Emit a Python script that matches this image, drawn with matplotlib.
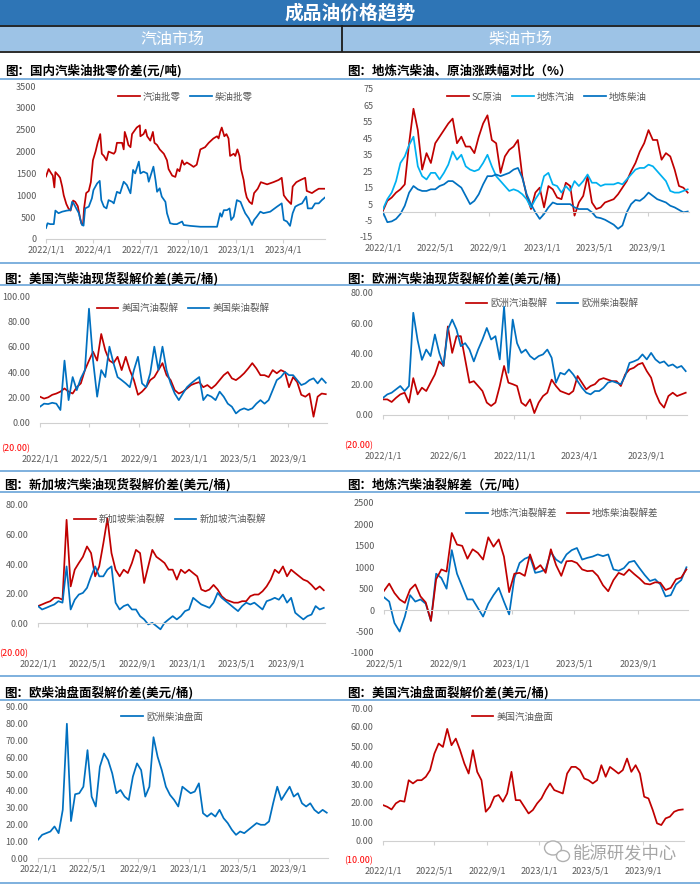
import numpy as np
import pandas as pd
import matplotlib
matplotlib.use('Agg')
import matplotlib.pyplot as plt
import matplotlib.dates as mdates
from matplotlib.patches import Rectangle, Ellipse
from matplotlib.lines import Line2D

plt.rcParams['font.family'] = ['Noto Sans CJK SC', 'DejaVu Sans']

W, H = 700, 885
RED = '#C00000'
BLUE = '#0070C0'
SKY = '#00B0F0'
GRAY = '#595959'
AXIS = '#D0D0D0'
RULE = '#5B9BD5'

# ---------------- data ----------------
# 10-day grid shared by most panels (2022-01-01 .. 2023-12-02)
grid = pd.date_range('2022-01-01', periods=71, freq='10D')

# panel 1 left: domestic wholesale-retail spread (yuan/t)
gas_retail_dates = [
    '2022-01-01', '2022-01-06', '2022-01-10', '2022-01-14', '2022-01-17', '2022-01-19', '2022-01-25',
    '2022-01-28', '2022-02-01', '2022-02-04', '2022-02-09', '2022-02-13', '2022-02-17', '2022-02-22',
    '2022-02-26', '2022-03-03', '2022-03-07', '2022-03-10', '2022-03-13', '2022-03-15', '2022-03-19',
    '2022-03-24', '2022-03-28', '2022-04-01', '2022-04-06', '2022-04-10', '2022-04-15', '2022-04-18',
    '2022-04-22', '2022-04-27', '2022-05-01', '2022-05-11', '2022-05-14', '2022-05-17', '2022-05-27',
    '2022-05-30', '2022-06-01', '2022-06-05', '2022-06-08', '2022-06-12', '2022-06-15', '2022-06-18',
    '2022-06-24', '2022-06-30', '2022-07-01', '2022-07-07', '2022-07-11', '2022-07-14', '2022-07-20',
    '2022-07-25', '2022-07-28', '2022-08-02', '2022-08-07', '2022-08-15', '2022-08-21', '2022-08-24',
    '2022-08-31', '2022-09-06', '2022-09-10', '2022-09-14', '2022-09-19', '2022-09-23', '2022-09-28',
    '2022-10-05', '2022-10-11', '2022-10-17', '2022-10-24', '2022-11-02', '2022-11-09', '2022-11-18',
    '2022-11-25', '2022-11-28', '2022-12-01', '2022-12-04', '2022-12-09', '2022-12-13', '2022-12-17',
    '2022-12-20', '2022-12-27', '2022-12-30', '2023-01-03', '2023-01-07', '2023-01-10', '2023-01-15',
    '2023-01-18', '2023-01-21', '2023-01-26', '2023-01-31', '2023-02-04', '2023-02-11', '2023-02-17',
    '2023-03-01', '2023-03-13', '2023-03-23', '2023-03-29', '2023-04-02', '2023-04-08', '2023-04-16',
    '2023-04-19', '2023-04-26', '2023-05-04', '2023-05-13', '2023-05-16', '2023-05-26', '2023-06-01',
    '2023-06-08', '2023-06-20']
gas_retail = [
    1430, 1600, 1520, 1450, 1180, 1530, 1450, 1400, 1200, 1000, 800, 700, 650, 880, 850, 750, 500,
    350, 330, 700, 1050, 1100, 1300, 1800, 2000, 2200, 2400, 1950, 1900, 1800, 2000, 1950, 2000,
    2200, 2200, 2050, 2450, 2300, 2150, 2100, 2400, 2450, 2550, 2600, 2350, 2400, 2500, 2350, 2250,
    2450, 2200, 2150, 2050, 1950, 1800, 1600, 1450, 1420, 1600, 1550, 1800, 1700, 1750, 1700, 1650,
    1700, 2050, 2100, 2200, 2300, 2350, 2300, 2450, 2550, 2350, 2400, 2300, 1900, 1950, 1900, 2050,
    1900, 1600, 1350, 1100, 950, 850, 800, 1050, 1150, 1300, 1250, 1300, 1350, 1400, 1000, 900, 800,
    1200, 1300, 1350, 1400, 1100, 1050, 1100, 1150, 1150]

diesel_retail_dates = [
    '2022-01-01', '2022-01-04', '2022-01-09', '2022-01-16', '2022-01-19', '2022-01-25', '2022-02-01',
    '2022-02-10', '2022-02-17', '2022-02-20', '2022-02-23', '2022-02-28', '2022-03-05', '2022-03-08',
    '2022-03-11', '2022-03-14', '2022-03-17', '2022-03-24', '2022-03-30', '2022-04-02', '2022-04-09',
    '2022-04-14', '2022-04-17', '2022-04-22', '2022-04-27', '2022-05-01', '2022-05-08', '2022-05-11',
    '2022-05-17', '2022-05-23', '2022-05-30', '2022-06-05', '2022-06-12', '2022-06-17', '2022-06-21',
    '2022-06-28', '2022-07-01', '2022-07-07', '2022-07-14', '2022-07-17', '2022-07-23', '2022-07-26',
    '2022-07-30', '2022-08-02', '2022-08-07', '2022-08-11', '2022-08-18', '2022-08-21', '2022-08-27',
    '2022-09-03', '2022-09-09', '2022-09-19', '2022-09-22', '2022-10-05', '2022-10-24', '2022-11-12',
    '2022-11-25', '2022-12-01', '2022-12-04', '2022-12-08', '2022-12-14', '2022-12-19', '2022-12-22',
    '2022-12-27', '2023-01-02', '2023-01-09', '2023-01-14', '2023-01-18', '2023-01-25', '2023-01-31',
    '2023-02-04', '2023-02-09', '2023-02-16', '2023-02-22', '2023-03-07', '2023-03-20', '2023-03-29',
    '2023-04-02', '2023-04-08', '2023-04-14', '2023-04-19', '2023-04-24', '2023-04-30', '2023-05-07',
    '2023-05-15', '2023-05-18', '2023-05-26', '2023-06-01', '2023-06-08', '2023-06-14', '2023-06-20']
diesel_retail = [
    250, 360, 340, 340, 650, 590, 625, 650, 660, 850, 815, 700, 590, 435, 320, 305, 700, 740, 930,
    1120, 1270, 1330, 890, 740, 700, 890, 850, 815, 1080, 1045, 1310, 1235, 1045, 1580, 1500, 1770,
    1500, 1540, 1500, 1310, 1540, 1655, 1350, 1080, 1160, 970, 850, 590, 360, 340, 340, 400, 320,
    300, 280, 280, 280, 590, 510, 660, 660, 700, 435, 510, 890, 850, 700, 590, 470, 320, 435, 510,
    625, 590, 625, 740, 815, 435, 400, 300, 590, 740, 780, 815, 970, 700, 700, 815, 815, 890, 950]

# panel 1 right: local refinery products vs SC crude, change (%)
sc_crude = [1, 7, 9, 12, 14, 17, 42, 63, 50, 26,
            36, 30, 42, 46, 50, 54, 57, 42, 46, 40,
            40, 36, 46, 54, 59, 44, 42, 24, 34, 38,
            40, 44, 22, 10, 2, 12, 15, 3, 16, 14,
            9, 8, 18, 16, -2, 6, 10, 22, 6, 2,
            3, 6, 7, 8, 11, 15, 19, 25, 30, 37,
            42, 50, 44, 44, 32, 36, 34, 26, 16, 15,
            12]
dl_gasoline = [2, 8, 12, 19, 30, 34, 41, 46, 28, 22,
               20, 24, 24, 20, 24, 29, 37, 32, 35, 28,
               26, 25, 26, 30, 35, 28, 22, 19, 16, 13,
               14, 13, 11, 8, 3, 8, 12, 22, 24, 17,
               16, 12, 16, 13, 19, 16, 19, 23, 18, 18,
               16, 17, 17, 17, 18, 17, 20, 23, 26, 27,
               27, 29, 28, 25, 22, 19, 13, 12, 12, 13,
               14]
dl_diesel = [0, -6, -5.5, -4, -1, 4, 12, 16, 14, 13,
             13, 14, 14, 16, 17, 19, 19, 17, 15, 10,
             5, 7, 11, 17, 22, 22, 23, 22, 23, 24,
             26, 27, 21, 11, 5, 0, -4, -1, 3, 6,
             5, 5, 5, 5, 3, 2, 2, 2, 0, -3,
             -3.5, -4.5, -6, -7.5, -10, -8, 0, 5, 7.5, 7,
             9, 12, 10, 8, 7, 6, 4, 3, 1.5, 0,
             0.5]

# panel 2 left: US spot cracks (USD/bbl)
us_gas_crack = [20.5, 19, 20, 22, 23, 24.5, 27, 24.5, 23, 28,
                31, 41.5, 49, 56, 49, 70, 57, 49, 47, 52,
                41.5, 52, 41.5, 33.6, 22, 24.5, 28, 33.6, 36, 41.5,
                47, 37.5, 33.6, 25.7, 23, 24.5, 27, 29.7, 31, 32,
                28, 29.7, 27, 29.7, 33.6, 37.5, 40, 35, 33.6, 36,
                39, 42.8, 47, 42.8, 37.5, 37.5, 36, 41.5, 39, 41.5,
                40, 28, 36, 32, 22, 20.5, 23, 4.7, 20.5, 23,
                22.5]
us_diesel_crack = [12.6, 15, 14.7, 15.7, 15, 10, 49, 17.8, 36, 25.7,
                   35, 41.5, 90, 49, 20.5, 41.5, 36, 60, 47, 36,
                   33.6, 31, 28, 41.5, 52, 31, 28, 39, 60, 41.5,
                   60, 41.5, 31, 23, 17.8, 23, 28, 31, 33.6, 36,
                   17.8, 22, 20.5, 17.8, 24.5, 20.5, 15, 12.6, 7.3, 10,
                   11.3, 10, 11.3, 15, 17.8, 15, 17.8, 25.7, 33.6, 36,
                   40, 37.5, 37.5, 33.6, 29.7, 31, 33.6, 35, 31, 35,
                   31.5]

# panel 2 right: Europe spot cracks (USD/bbl)
eu_gas_crack = [10, 10, 8.3, 11, 13.3, 14.4, 7.9, 24, 13.3, 17.7,
                15.5, 21, 26.4, 35, 32, 58, 40.6, 51.6, 51.6, 36.3,
                21, 22, 18.8, 15.5, 7.9, 5.7, 7.9, 18.8, 32, 21,
                20, 18.8, 7.9, 5.7, 10, 1, 7.9, 12.2, 14.4, 23,
                18.8, 15.5, 14.4, 13.3, 15.5, 25.4, 21, 16.6, 18.8, 20,
                23, 24, 23, 22, 22, 18.8, 26.4, 29.7, 30.8, 33,
                34, 28.6, 24.3, 14.4, 7.9, 4.6, 12.2, 14.4, 12.2, 13.3,
                14.4]
eu_diesel_crack = [11, 13.3, 14.4, 16.6, 18.8, 15.5, 18.8, 67, 49, 36,
                   42.8, 38.5, 52.7, 40.6, 32, 56, 62.5, 56, 45, 47,
                   42.8, 35, 42.8, 49.4, 57, 49.4, 51.6, 36.3, 71, 27.5,
                   62.5, 47, 40.6, 42.8, 38.5, 36.3, 38.5, 39.6, 42.8, 37.4,
                   21, 27.5, 26.4, 29.7, 26.4, 22, 17.7, 14.4, 13.3, 15.5,
                   15.5, 17.7, 21, 22, 21, 20, 25.4, 34, 35, 36.3,
                   39.6, 36.3, 40.6, 36.3, 34, 35, 32, 33, 30.8, 32,
                   28.6]

# panel 3 left: Singapore spot cracks (USD/bbl)
sg_diesel_crack = [11.7, 12.8, 14, 15, 17.3, 17.3, 16, 70, 25, 36.3,
                   40.8, 45, 52, 47.5, 31.8, 38.5, 54, 71, 47.5, 36.3,
                   31.8, 36.3, 34, 40.8, 49.7, 47.5, 27.3, 38.5, 49.7, 45,
                   43, 40.8, 36.3, 36.3, 29.6, 36.3, 34, 36.3, 34, 31.8,
                   22.9, 21.7, 22.9, 26, 22.9, 18.4, 16, 15, 14, 14,
                   15, 15, 18.4, 19.5, 19.5, 21.7, 25, 29.6, 36.3, 34,
                   38.5, 31.8, 36.3, 34, 31.8, 29.6, 28.5, 26, 22.9, 25,
                   22.4]
sg_gas_crack = [11.7, 9.4, 10.5, 11.7, 12.8, 15, 14, 38.5, 9.4, 16,
                19.5, 20.6, 24, 31.8, 38.5, 31.8, 31.8, 36.3, 38.5, 14,
                9.4, 11.7, 12.8, 9.4, 9.4, 4.9, 2.7, -0.7, 0.4, -1.8,
                -4, 0.4, 2.7, 4.9, 2.7, 4.9, 8.3, 9.4, 17.3, 15,
                12.8, 11.7, 10.5, 14, 20.6, 17.3, 15, 12.8, 10.5, 8.3,
                11.7, 14, 12.8, 14, 11.7, 9.4, 15, 16, 17.3, 16,
                19.5, 14, 17.3, 7.2, 4.9, 2.7, 4.9, 6, 11.7, 9.4,
                10.5]

# panel 3 right: local refinery cracks (yuan/t), from 2022-05-01
dl_gas_crack = [300, 200, -300, -500, -150, 350, 200, 250, 150, -250,
                850, 750, 500, 1400, 850, 550, 250, 250, 50, -150,
                150, 350, 520, 200, -100, 750, 1100, 1200, 1250, 870,
                900, 950, 1350, 1180, 1100, 1300, 1400, 1450, 1180, 1220,
                1250, 1300, 1260, 1300, 950, 920, 980, 1120, 1150, 980,
                820, 680, 720, 600, 320, 350, 600, 700, 1000]
dl_diesel_crack = [450, 620, 400, 250, 170, 480, 600, 320, 180, -250,
                   720, 950, 900, 1800, 1530, 1500, 1200, 1420, 1335, 1180,
                   1700, 1480, 1650, 1250, 420, 850, 870, 800, 1300, 950,
                   1050, 870, 1420, 1050, 800, 1140, 1150, 1100, 950, 910,
                   920, 800, 580, 440, 700, 870, 820, 950, 840, 740,
                   620, 600, 650, 640, 470, 520, 720, 760, 950]

# panel 4: futures cracks (USD/bbl)
eu_diesel_futures = [10.9, 13.8, 14.8, 15.8, 18.8, 14.8, 28.7, 80, 22, 38,
                     38.6, 42.5, 64.3, 36.6, 30.7, 54.4, 62.3, 58.3, 50.4, 38.6,
                     40.5, 36.6, 34.6, 48.5, 56.4, 52.4, 36.6, 42.5, 72, 60.3,
                     52.4, 42.5, 37.6, 34.6, 30.7, 42.5, 40.5, 38.6, 39.6, 44.5,
                     26.7, 24.7, 26.7, 24.7, 28.7, 23.7, 20.8, 16.8, 13.8, 15.8,
                     14.8, 16.8, 18.8, 20.8, 19.8, 19.8, 21.8, 32.6, 42.5, 34.6,
                     38.6, 42.5, 36.6, 38.6, 32.6, 30.7, 32.6, 28.7, 26.7, 28.7,
                     27]
us_gas_futures = [18.9, 18, 16.6, 19.8, 21.2, 20.7, 32, 30.3, 32, 32,
                  33.8, 37.3, 46, 51.3, 49.5, 59, 50.4, 53.9, 47.8, 40.8,
                  35.5, 47.8, 36.4, 32, 15.4, 18, 23.3, 24.2, 20.7, 25,
                  36.4, 21.5, 21.5, 18, 14.5, 16.3, 19.8, 22.4, 26.8, 30.3,
                  26.8, 25.9, 25, 35.5, 39, 39, 37.3, 32.9, 32, 30.3,
                  32, 39.9, 33.8, 39, 37.3, 35.5, 37.3, 43.4, 36.4, 39.9,
                  35.5, 23.3, 22.4, 16.3, 9.3, 8.4, 11.9, 12.8, 15.4, 16.3,
                  16.6]

# tick positions / labels
ticks_q = ['2022-01-01', '2022-04-01', '2022-07-01', '2022-10-01', '2023-01-01', '2023-04-01']
labels_q = ['2022/1/1', '2022/4/1', '2022/7/1', '2022/10/1', '2023/1/1', '2023/4/1']
ticks_4m = ['2022-01-01', '2022-05-01', '2022-09-01', '2023-01-01', '2023-05-01', '2023-09-01']
labels_4m = ['2022/1/1', '2022/5/1', '2022/9/1', '2023/1/1', '2023/5/1', '2023/9/1']
ticks_5m = ['2022-01-01', '2022-06-01', '2022-11-01', '2023-04-01', '2023-09-01']
labels_5m = ['2022/1/1', '2022/6/1', '2022/11/1', '2023/4/1', '2023/9/1']
ticks_dl = ['2022-05-01', '2022-09-01', '2023-01-01', '2023-05-01', '2023-09-01']
labels_dl = ['2022/5/1', '2022/9/1', '2023/1/1', '2023/5/1', '2023/9/1']


def acct(vals, dec=2):
    return [f'({abs(v):.{dec}f})' if v < 0 else f'{v:.{dec}f}' for v in vals]


fig = plt.figure(figsize=(W / 100, H / 100), dpi=100)
fig.patch.set_facecolor('white')


def px_rect(x0, x1, y0, y1):
    return [x0 / W, 1 - y1 / H, (x1 - x0) / W, (y1 - y0) / H]


def hline(y, x0=0, x1=W, color=RULE, lw=1.1):
    fig.add_artist(Line2D([x0 / W, x1 / W], [1 - y / H, 1 - y / H], color=color, lw=lw,
                          transform=fig.transFigure))


def draw_panel(box, lines, xlim, xticks, xlabels, yticks, ylabels, leg_xy):
    ax = fig.add_axes(px_rect(*box))
    ax.patch.set_alpha(0)
    for x, y, color, name in lines:
        ax.plot(x, y, color=color, lw=1.25, label=name, solid_joinstyle='round')
    ax.set_xlim(pd.Timestamp(xlim[0]), pd.Timestamp(xlim[1]))
    ax.set_ylim(yticks[0], yticks[-1])
    ax.set_yticks(yticks, ylabels)
    ax.tick_params(axis='y', length=0, pad=7, labelsize=6.5, labelcolor=GRAY)
    for lab in ax.get_yticklabels():
        if lab.get_text().startswith('('):
            lab.set_color('#FF0000')
    for s in ('top', 'right', 'left'):
        ax.spines[s].set_visible(False)
    ax.spines['bottom'].set_position(('data', 0))
    ax.spines['bottom'].set_color(AXIS)
    ax.spines['bottom'].set_linewidth(0.8)
    tnum = mdates.date2num(pd.to_datetime(xticks))
    ax.set_xticks(tnum)
    ax.tick_params(axis='x', length=3, width=0.8, color=AXIS, labelbottom=False)
    sec = ax.secondary_xaxis(0.0)
    sec.set_xticks(tnum, xlabels)
    sec.tick_params(axis='x', length=0, pad=4.5, labelsize=6.5, labelcolor=GRAY)
    sec.spines['bottom'].set_visible(False)
    ax.legend(loc='center', bbox_to_anchor=leg_xy, ncol=len(lines), frameon=False,
              fontsize=6.8, labelcolor=GRAY, handlelength=2.3, handletextpad=0.3,
              columnspacing=1.0, borderaxespad=0)
    return ax


# ---------------- header ----------------
fig.add_artist(Rectangle((0, 1 - 25 / H), 1, 25 / H, transform=fig.transFigure,
                         facecolor='#2E75B6', edgecolor='none'))
fig.add_artist(Rectangle((0, 1 - 51 / H), 1, 26 / H, transform=fig.transFigure,
                         facecolor='#9DC3E6', edgecolor='none'))
hline(25.5, color='#1A1A1A', lw=1.3)
hline(51.5, color='#1A1A1A', lw=1.3)
fig.add_artist(Line2D([342 / W, 342 / W], [1 - 26 / H, 1 - 51 / H], color='#1A1A1A', lw=1.3,
                      transform=fig.transFigure))
fig.text(350 / W, 1 - 13 / H, '成品油价格趋势', color='white', fontsize=13.5, fontweight='bold',
         ha='center', va='center')
fig.text(172 / W, 1 - 39 / H, '汽油市场', color='white', fontsize=11.5, ha='center', va='center')
fig.text(520 / W, 1 - 39 / H, '柴油市场', color='white', fontsize=11.5, ha='center', va='center')

# section rules and titles
for y in (79, 285, 492, 700):
    hline(y)
for y in (263, 471, 676, 883):
    hline(y)

titles = [
    (5, 71, '图：国内汽柴油批零价差(元/吨)'),
    (347, 71, '图：地炼汽柴油、原油涨跌幅对比（%）'),
    (4, 279, '图：美国汽柴油现货裂解价差(美元/桶)'),
    (347, 279, '图：欧洲汽柴油现货裂解价差(美元/桶)'),
    (4, 485, '图：新加坡汽柴油现货裂解价差(美元/桶)'),
    (347, 485, '图：地炼汽柴油裂解差（元/吨）'),
    (4, 693, '图：欧柴油盘面裂解价差(美元/桶)'),
    (347, 693, '图：美国汽油盘面裂解价差(美元/桶)'),
]
for x, y, t in titles:
    fig.text(x / W, 1 - y / H, t, fontsize=9, fontweight='bold', color='black',
             ha='left', va='center')

# ---------------- panels ----------------
END = '2023-12-05'

draw_panel((46, 325, 86, 239),
           [(pd.to_datetime(gas_retail_dates), gas_retail, RED, '汽油批零'),
            (pd.to_datetime(diesel_retail_dates), diesel_retail, BLUE, '柴油批零')],
           ('2022-01-01', '2023-06-20'), ticks_q, labels_q,
           list(range(0, 3501, 500)), [str(v) for v in range(0, 3501, 500)], (0.50, 0.928))

p1r_y = list(range(-15, 76, 10))
draw_panel((383, 689, 89, 237),
           [(grid, sc_crude, RED, 'SC原油'),
            (grid, dl_gasoline, SKY, '地炼汽油'),
            (grid, dl_diesel, BLUE, '地炼柴油')],
           ('2022-01-01', END), ticks_4m, labels_4m,
           p1r_y, [str(v) for v in p1r_y], (0.536, 0.946))

p2l_y = list(range(-20, 101, 20))
draw_panel((40, 327, 296, 448),
           [(grid, us_gas_crack, RED, '美国汽油裂解'),
            (grid, us_diesel_crack, BLUE, '美国柴油裂解')],
           ('2022-01-01', END), ticks_4m, labels_4m,
           p2l_y, acct(p2l_y), (0.498, 0.92))

p2r_y = list(range(-20, 81, 20))
draw_panel((383, 687, 293, 445),
           [(grid, eu_gas_crack, RED, '欧洲汽油裂解'),
            (grid, eu_diesel_crack, BLUE, '欧洲柴油裂解')],
           ('2022-01-01', END), ticks_5m, labels_5m,
           p2r_y, acct(p2r_y), (0.556, 0.934))

p3l_y = list(range(-20, 81, 20))
draw_panel((38, 325, 505, 653),
           [(grid, sg_diesel_crack, RED, '新加坡柴油裂解'),
            (grid, sg_gas_crack, BLUE, '新加坡汽油裂解')],
           ('2022-01-01', END), ticks_4m, labels_4m,
           p3l_y, acct(p3l_y), (0.46, 0.905))

p3r_y = list(range(-1000, 2501, 500))
draw_panel((384, 688, 503, 653),
           [(grid[12:], dl_gas_crack, BLUE, '地炼汽油裂解差'),
            (grid[12:], dl_diesel_crack, RED, '地炼柴油裂解差')],
           ('2022-05-01', END), ticks_dl, labels_dl,
           p3r_y, [str(v) for v in p3r_y], (0.586, 0.933))

p4l_y = list(range(0, 91, 10))
draw_panel((38, 328, 707, 858),
           [(grid, eu_diesel_futures, BLUE, '欧洲柴油盘面')],
           ('2022-01-01', END), ticks_4m, labels_4m,
           p4l_y, acct(p4l_y), (0.428, 0.934))

p4r_y = list(range(-10, 71, 10))
draw_panel((383, 684, 708, 860),
           [(grid, us_gas_futures, RED, '美国汽油盘面')],
           ('2022-01-01', END), ticks_4m, labels_4m,
           p4r_y, acct(p4r_y), (0.43, 0.94))

# watermark
for cx, cy, w, h in ((553, 848, 17, 14), (563, 856, 13, 11)):
    fig.add_artist(Ellipse((cx / W, 1 - cy / H), w / W, h / H, transform=fig.transFigure,
                           facecolor='white', edgecolor='#B0B0B0', lw=1.0))
fig.text(573 / W, 1 - 853 / H, '能源研发中心', color='#A6A6A6', fontsize=12.5,
         ha='left', va='center')

fig.savefig('out.png', dpi=100)
